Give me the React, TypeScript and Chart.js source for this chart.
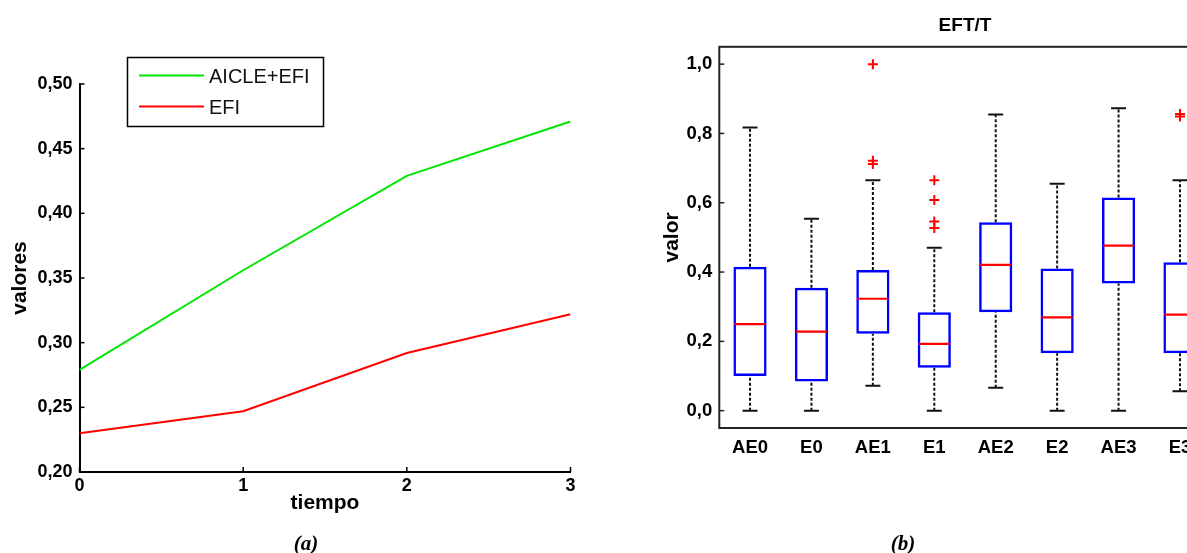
import React, { useEffect, useRef } from 'react';
import { Chart, registerables } from 'chart.js';
Chart.register(...registerables);

// ---------- Panel (a) data ----------
const tiempo = [0, 1, 2, 3];
const serieNames = ['AICLE+EFI', 'EFI'];
const aicleEfi = [0.279, 0.356, 0.429, 0.471];
const efi = [0.23, 0.247, 0.292, 0.322];
const yTicksA = [0.2, 0.25, 0.3, 0.35, 0.4, 0.45, 0.5];

// ---------- Panel (b) data ----------
const groups = ['AE0', 'E0', 'AE1', 'E1', 'AE2', 'E2', 'AE3', 'E3'];
const whiskerLow = [0, 0, 0.072, 0, 0.066, 0, 0, 0.056];
const q1 = [0.1, 0.084, 0.222, 0.124, 0.284, 0.166, 0.367, 0.166];
const medians = [0.25, 0.228, 0.323, 0.193, 0.421, 0.269, 0.476, 0.277];
const q3 = [0.415, 0.355, 0.406, 0.284, 0.544, 0.41, 0.615, 0.428];
const whiskerHigh = [0.817, 0.554, 0.665, 0.47, 0.855, 0.655, 0.873, 0.665];
const outlierGroup = ['AE1', 'AE1', 'AE1', 'E1', 'E1', 'E1', 'E1', 'E3', 'E3'];
const outlierValues = [1.0, 0.721, 0.712, 0.665, 0.608, 0.546, 0.527, 0.856, 0.849];
const yTicksB = [0, 0.2, 0.4, 0.6, 0.8, 1.0];

const FAM = "'Liberation Sans', Arial, Helvetica, sans-serif";
const GREEN = '#00e600';
const RED = '#ff0000';
const BLUE = '#0000ff';

const axisAPlugin = {
  id: 'axisA',
  afterDraw(chart: any) {
    const { ctx, chartArea, scales } = chart;
    const { left, bottom } = chartArea;
    ctx.save();
    ctx.strokeStyle = '#000';
    ctx.lineWidth = 1.5;
    scales.y.ticks.forEach((t: any) => {
      const py = scales.y.getPixelForValue(t.value);
      ctx.beginPath();
      ctx.moveTo(left, py);
      ctx.lineTo(left + 5, py);
      ctx.stroke();
    });
    scales.x.ticks.forEach((t: any) => {
      const px = scales.x.getPixelForValue(t.value);
      ctx.beginPath();
      ctx.moveTo(px, bottom);
      ctx.lineTo(px, bottom - 5);
      ctx.stroke();
    });
    // legend box
    const bx = 127.5, by = 57.5, bw = 196, bh = 69;
    ctx.fillStyle = '#fff';
    ctx.fillRect(bx, by, bw, bh);
    ctx.lineWidth = 1.5;
    ctx.strokeStyle = '#000';
    ctx.strokeRect(bx, by, bw, bh);
    ctx.font = `20px ${FAM}`;
    ctx.textBaseline = 'middle';
    ctx.textAlign = 'left';
    chart.data.datasets.forEach((ds: any, i: number) => {
      const ly = 75.5 + i * 31;
      ctx.strokeStyle = ds.borderColor;
      ctx.lineWidth = 2;
      ctx.beginPath();
      ctx.moveTo(139, ly);
      ctx.lineTo(204, ly);
      ctx.stroke();
      ctx.fillStyle = '#111';
      ctx.fillText(ds.label, 209, ly + 1.5);
    });
    ctx.restore();
  },
};

const frameBPlugin = {
  id: 'frameB',
  afterDraw(chart: any) {
    const { ctx, chartArea, scales } = chart;
    const { left, top, right, bottom } = chartArea;
    ctx.save();
    ctx.strokeStyle = '#222';
    ctx.lineWidth = 2;
    ctx.strokeRect(left, top, right - left, bottom - top);
    ctx.lineWidth = 1.5;
    scales.y.ticks.forEach((t: any) => {
      const py = scales.y.getPixelForValue(t.value);
      ctx.beginPath();
      ctx.moveTo(left, py);
      ctx.lineTo(left + 5, py);
      ctx.stroke();
    });
    ctx.restore();
  },
};

export default function App() {
  const refA = useRef<HTMLCanvasElement | null>(null);
  const refB = useRef<HTMLCanvasElement | null>(null);

  useEffect(() => {
    const chartA = new Chart(refA.current as HTMLCanvasElement, {
      type: 'line',
      data: {
        datasets: [
          {
            label: serieNames[0],
            data: tiempo.map((t, i) => ({ x: t, y: aicleEfi[i] })),
            borderColor: GREEN,
            borderWidth: 2,
            pointRadius: 0,
            tension: 0,
          },
          {
            label: serieNames[1],
            data: tiempo.map((t, i) => ({ x: t, y: efi[i] })),
            borderColor: RED,
            borderWidth: 2,
            pointRadius: 0,
            tension: 0,
          },
        ],
      },
      options: {
        responsive: false,
        animation: false,
        events: [],
        layout: { padding: { left: 0, right: 29.5, top: 84, bottom: 0 } },
        plugins: { legend: { display: false }, tooltip: { enabled: false }, title: { display: false } },
        scales: {
          x: {
            type: 'linear',
            min: 0,
            max: 3,
            afterBuildTicks: (s: any) => {
              s.ticks = tiempo.map((v) => ({ value: v }));
            },
            afterFit: (s: any) => {
              s.height = 553 - 472;
            },
            grid: { display: false, drawTicks: false },
            border: { display: true, color: '#000', width: 2 },
            ticks: {
              padding: 3,
              color: '#000',
              font: { family: FAM, size: 18, weight: 'bold' },
              callback: (v: any) => String(v),
            },
            title: {
              display: true,
              text: 'tiempo',
              color: '#000',
              font: { family: FAM, size: 21, weight: 'bold' },
              padding: { top: 0, bottom: 37 },
            },
          },
          y: {
            type: 'linear',
            min: 0.2,
            max: 0.5,
            afterBuildTicks: (s: any) => {
              s.ticks = yTicksA.map((v) => ({ value: v }));
            },
            afterFit: (s: any) => {
              s.width = 79.5;
            },
            grid: { display: false, drawTicks: false },
            border: { display: true, color: '#000', width: 2 },
            ticks: {
              padding: 7,
              color: '#000',
              font: { family: FAM, size: 18, weight: 'bold' },
              callback: (v: any) => Number(v).toFixed(2).replace('.', ','),
            },
            title: {
              display: true,
              text: 'valores',
              color: '#000',
              font: { family: FAM, size: 21, weight: 'bold' },
              padding: { top: 8, bottom: 0 },
            },
          },
        },
      } as any,
      plugins: [axisAPlugin],
    });

    const whiskerData: any[] = [];
    groups.forEach((g, i) => {
      const x = i + 1;
      whiskerData.push({ x, y: q3[i] }, { x, y: whiskerHigh[i] }, { x, y: null });
      whiskerData.push({ x, y: whiskerLow[i] }, { x, y: q1[i] }, { x, y: null });
    });
    const capData: any[] = [];
    groups.forEach((g, i) => {
      capData.push({ x: i + 1, y: whiskerHigh[i] }, { x: i + 1, y: whiskerLow[i] });
    });

    const chartB = new Chart(refB.current as HTMLCanvasElement, {
      type: 'bar',
      data: {
        datasets: [
          {
            type: 'scatter',
            data: outlierValues.map((v, i) => ({ x: groups.indexOf(outlierGroup[i]) + 1, y: v })),
            pointStyle: 'cross',
            pointRadius: 5,
            borderWidth: 2,
            borderColor: RED,
            backgroundColor: RED,
          },
          {
            type: 'scatter',
            data: groups.map((g, i) => ({ x: i + 1, y: medians[i] })),
            pointStyle: 'line',
            pointRadius: 15.5,
            borderWidth: 2.2,
            borderColor: RED,
          },
          {
            type: 'scatter',
            data: capData,
            pointStyle: 'line',
            pointRadius: 7.5,
            borderWidth: 2,
            borderColor: '#111',
          },
          {
            type: 'bar',
            data: groups.map((g, i) => ({ x: i + 1, y: [q1[i], q3[i]] })),
            backgroundColor: 'rgba(255,255,255,0)',
            borderColor: BLUE,
            borderWidth: 2.5,
            borderSkipped: false,
            barPercentage: 0.54,
            categoryPercentage: 1,
          },
          {
            type: 'line',
            data: whiskerData,
            borderColor: '#111',
            borderWidth: 2,
            borderDash: [3, 2],
            pointRadius: 0,
            spanGaps: false,
            tension: 0,
          },
        ],
      },
      options: {
        responsive: false,
        animation: false,
        events: [],
        layout: { padding: { left: 0, right: 29.3, top: 0, bottom: 0 } },
        plugins: {
          legend: { display: false },
          tooltip: { enabled: false },
          title: {
            display: true,
            text: 'EFT/T',
            color: '#000',
            fullSize: false,
            font: { family: FAM, size: 19, weight: 'bold' },
            padding: { top: 14, bottom: 10 },
          },
        },
        scales: {
          x: {
            type: 'linear',
            min: 0.5,
            max: 8.5,
            offset: false,
            afterBuildTicks: (s: any) => {
              s.ticks = groups.map((g, i) => ({ value: i + 1 }));
            },
            afterFit: (s: any) => {
              s.height = 553 - 428;
            },
            grid: { display: false, drawTicks: false },
            border: { display: false },
            ticks: {
              padding: 9,
              color: '#000',
              font: { family: FAM, size: 18.5, weight: 'bold' },
              callback: (v: any) => groups[Math.round(v) - 1],
            },
          },
          y: {
            type: 'linear',
            min: -0.05,
            max: 1.05,
            afterBuildTicks: (s: any) => {
              s.ticks = yTicksB.map((v) => ({ value: v }));
            },
            afterFit: (s: any) => {
              s.width = 119.3;
            },
            grid: { display: false, drawTicks: false },
            border: { display: false },
            ticks: {
              padding: 7,
              color: '#000',
              font: { family: FAM, size: 18.5, weight: 'bold' },
              callback: (v: any) => Number(v).toFixed(1).replace('.', ','),
            },
            title: {
              display: true,
              text: 'valor',
              color: '#000',
              font: { family: FAM, size: 21, weight: 'bold' },
              padding: { top: 60, bottom: 0 },
            },
          },
        },
      } as any,
      plugins: [frameBPlugin],
    });

    return () => {
      chartA.destroy();
      chartB.destroy();
    };
  }, []);

  const captionStyle: React.CSSProperties = {
    position: 'absolute',
    top: 532,
    width: 100,
    textAlign: 'center',
    fontFamily: "'Liberation Serif', 'Times New Roman', serif",
    fontWeight: 'bold',
    fontStyle: 'italic',
    fontSize: 21,
    lineHeight: '22px',
    color: '#000',
  };

  return (
    <div
      style={{
        position: 'fixed',
        left: 0,
        top: 0,
        width: 1187,
        height: 553,
        overflow: 'hidden',
        background: '#fff',
      }}
    >
      <canvas
        ref={refA}
        width={600}
        height={553}
        style={{ position: 'absolute', left: 0, top: 0, width: 600, height: 553 }}
      />
      <canvas
        ref={refB}
        width={640}
        height={553}
        style={{ position: 'absolute', left: 600, top: 0, width: 640, height: 553 }}
      />
      <div style={{ ...captionStyle, left: 256 }}>(a)</div>
      <div style={{ ...captionStyle, left: 853 }}>(b)</div>
    </div>
  );
}
